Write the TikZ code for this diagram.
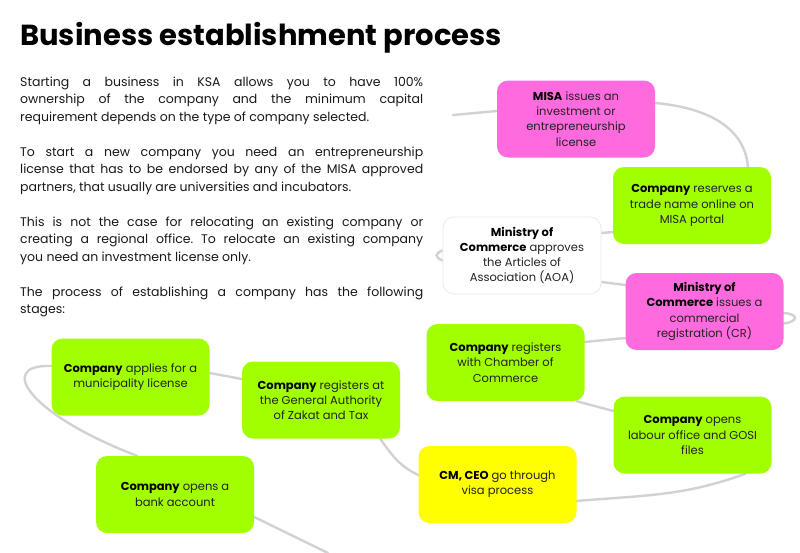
\documentclass[tikz,border=0pt]{standalone}
\usepackage{fontspec}
\setmainfont{Poppins}
\usetikzlibrary{calc}
\definecolor{limeg}{HTML}{A2FF00}
\definecolor{pinkm}{HTML}{FF6BDF}
\definecolor{yelb}{HTML}{FFFF00}
\definecolor{connc}{HTML}{D2D2D2}
\definecolor{txtc}{HTML}{222222}
\pgfdeclarelayer{bg}
\pgfsetlayers{bg,main}
\newcommand{\bk}[1]{\textbf{\color{black}#1}}
\tikzset{
 box/.style={rounded corners=11pt, minimum width=158pt, minimum height=77pt, align=center, inner sep=0pt, font=\fontsize{11.5}{15.2}\selectfont, text=txtc},
 greenbox/.style={box, fill=limeg},
 pinkbox/.style={box, fill=pinkm},
 yellowbox/.style={box, fill=yelb},
 whitebox/.style={box, fill=white, draw=black!8, line width=0.8pt},
 cn/.style={draw=connc, line width=2.4pt, line cap=round},
}
\begin{document}
\frenchspacing
\begin{tikzpicture}[x=1pt,y=-1pt]
\useasboundingbox (0,0) rectangle (800,552);
\begin{pgfonlayer}{bg}
\fill[white] (0,0) rectangle (800,552);
\end{pgfonlayer}
\node[anchor=base west, inner sep=0pt] (title) at (20,45) {\fontsize{29}{31}\selectfont\bfseries Business establishment process};
\node[anchor=base west, inner sep=0pt, text=black!90] (body) at (20,86) {\parbox[t]{403pt}{\fontsize{12.5}{17.5}\selectfont
Starting a business in KSA allows you to have 100\%\linebreak ownership of the company and the minimum capital\linebreak requirement depends on the type of company selected.\par\vspace{17.5pt}
To start a new company you need an entrepreneurship\linebreak license that has to be endorsed by any of the MISA approved\linebreak partners, that usually are universities and incubators.\par\vspace{17.5pt}
This is not the case for relocating an existing company or\linebreak creating a regional office. To relocate an existing company\linebreak you need an investment license only.\par\vspace{17.5pt}
The process of establishing a company has the following\linebreak stages:}};

\node[pinkbox] (n1) at (576,119) {\bk{MISA} issues an\\investment or\\entrepreneurship\\license};
\node[greenbox] (n2) at (692,205.5) {\bk{Company} reserves a\\trade name online on\\MISA portal};
\node[whitebox] (n3) at (522,255.5) {\bk{Ministry of}\\\bk{Commerce} approves\\the Articles of\\Association (AOA)};
\node[pinkbox] (n4) at (704.5,311.5) {\bk{Ministry of}\\\bk{Commerce} issues a\\commercial\\registration (CR)};
\node[greenbox] (n5) at (505.5,362.5) {\bk{Company} registers\\with Chamber of\\Commerce};
\node[greenbox] (n6) at (692.5,435) {\bk{Company} opens\\labour office and GOSI\\files};
\node[yellowbox] (n7) at (497.5,484.5) {\bk{CM, CEO} go through\\visa process};
\node[greenbox] (n8) at (130.5,377) {\bk{Company} applies for a\\municipality license};
\node[greenbox] (n9) at (321,400) {\bk{Company} registers at\\the General Authority\\of Zakat and Tax};
\node[greenbox] (n10) at (175,494.5) {\bk{Company} opens a\\bank account};

\coordinate (m0) at (453,115);
\coordinate (m1) at (328,553);
\begin{pgfonlayer}{bg}
\draw[cn] (m0) to[out=5,in=185] ([yshift=8pt]n1.west);
\draw[cn] ([yshift=16pt]n1.east) to[out=-5,in=95] ([xshift=56pt]n2.north);
\draw[cn] ([yshift=-26.5pt]n2.west) -- ([yshift=22.5pt]n3.east);
\draw[cn] ([yshift=5pt]n3.west) .. controls +(-8pt,-3pt) and +(-8pt,3pt) .. ([yshift=-5pt]n3.west);
\draw[cn] ([yshift=-26.5pt]n3.east) -- ([yshift=26.5pt]n4.west);
\draw[cn] ([yshift=-1.5pt]n4.east) .. controls +(15pt,-1pt) and +(15pt,2pt) .. ([yshift=-12pt]n4.east);
\draw[cn] ([yshift=-26.5pt]n4.west) -- ([yshift=20.5pt]n5.east);
\draw[cn] ([xshift=-8pt]n5.south east) -- ([yshift=24pt]n6.west);
\draw[cn] ([xshift=53pt]n6.south) to[out=200,in=5] ([yshift=-16.5pt]n7.east);
\draw[cn] ([yshift=9.5pt]n7.west) to[out=155,in=-55] ([xshift=-20pt]n9.south east);
\draw[cn] ([yshift=21pt]n9.west) -- ([yshift=4pt]n8.east);
\draw[cn] ([yshift=11pt]n8.west) .. controls (-5,364) and (30,415) .. ([xshift=-38pt]n10.north);
\draw[cn] ([yshift=-22.5pt]n10.east) -- (m1);
\end{pgfonlayer}
\end{tikzpicture}
\end{document}
